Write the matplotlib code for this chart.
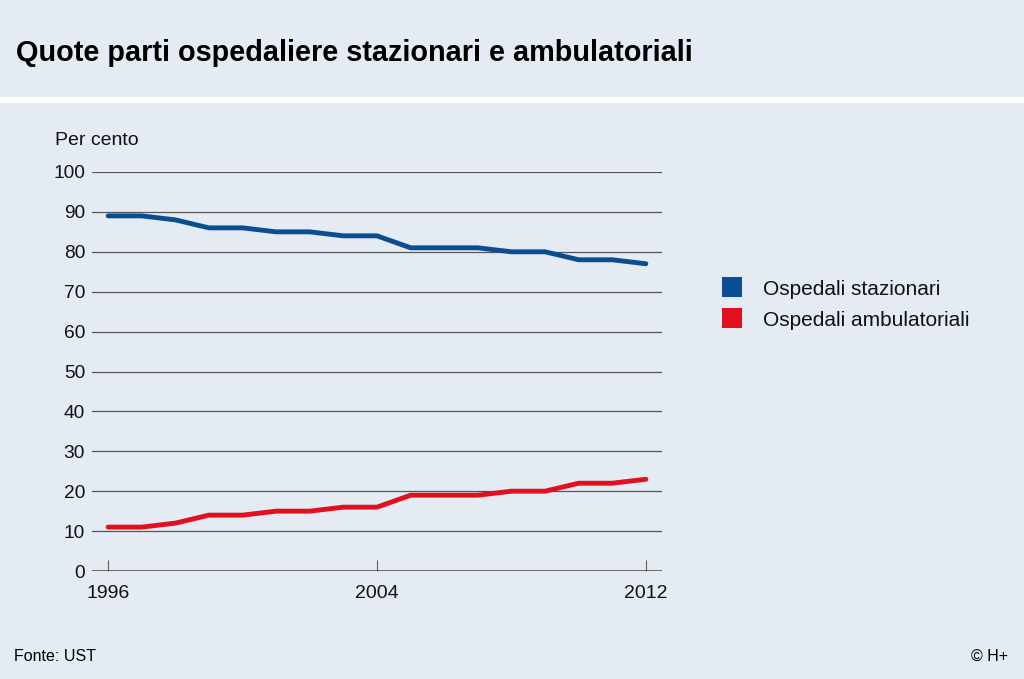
import matplotlib.pyplot as plt
from matplotlib.patches import Rectangle

years = list(range(1996, 2013))
stazionari = [89, 89, 88, 86, 86, 85, 85, 84, 84, 81, 81, 81, 80, 80, 78, 78, 77]
ambulatoriali = [11, 11, 12, 14, 14, 15, 15, 16, 16, 19, 19, 19, 20, 20, 22, 22, 23]
labels = ["Ospedali stazionari", "Ospedali ambulatoriali"]
colors = ["#0b4d92", "#e2101f"]
xticks = [1996, 2004, 2012]
yticks = list(range(0, 101, 10))

BG = "#e4ebf3"
W, H = 1024, 679

plt.rcParams["font.family"] = ["Liberation Sans", "DejaVu Sans"]

fig = plt.figure(figsize=(W / 100, H / 100), dpi=100, facecolor=BG)

# white separator under the title band
fig.patches.append(Rectangle((0, 1 - 103 / H), 1, 6 / H, transform=fig.transFigure,
                             facecolor="white", edgecolor="none"))
fig.text(16 / W, 1 - 61 / H, "Quote parti ospedaliere stazionari e ambulatoriali",
         fontsize=20.8, fontweight="bold", va="baseline", ha="left")

ax = fig.add_axes([92 / W, 1 - 571 / H, 570 / W, 399 / H])
ax.set_facecolor(BG)
ax.plot(years, stazionari, color=colors[0], lw=3.5, solid_capstyle="round", zorder=3)
ax.plot(years, ambulatoriali, color=colors[1], lw=3.5, solid_capstyle="round", zorder=3)

ax.set_xlim(1995.52, 2012.48)
ax.set_ylim(0, 100)
ax.set_yticks(yticks)
ax.set_xticks(xticks)
for y in yticks[1:]:
    ax.axhline(y, color="#555555", lw=0.9, zorder=1)
ax.axhline(0, color="#615a55", lw=2.0, zorder=2)
for s in ax.spines.values():
    s.set_visible(False)
ax.tick_params(axis="y", length=0, labelsize=13.8, pad=5, colors="#111111")
ax.tick_params(axis="x", direction="in", length=8, width=0.8, color="#615a55",
               labelsize=14, pad=10, labelcolor="#111111")

fig.text(55 / W, 1 - 145 / H, "Per cento", fontsize=14, va="baseline", ha="left", color="#111111")

# legend
for i, (lab, col) in enumerate(zip(labels, colors)):
    yc = 287 + i * 31
    fig.patches.append(Rectangle((722 / W, 1 - (yc + 10) / H), 20 / W, 20 / H,
                                 transform=fig.transFigure, facecolor=col, edgecolor="none"))
    fig.text(763 / W, 1 - (yc + 8) / H, lab, fontsize=15, va="baseline", ha="left",
             color="#111111")

fig.text(14 / W, 1 - 661 / H, "Fonte: UST", fontsize=11.5, va="baseline", ha="left")
fig.text(1008 / W, 1 - 661 / H, "© H+", fontsize=11.5, va="baseline", ha="right")

fig.savefig("out.png", dpi=100, facecolor=BG)
